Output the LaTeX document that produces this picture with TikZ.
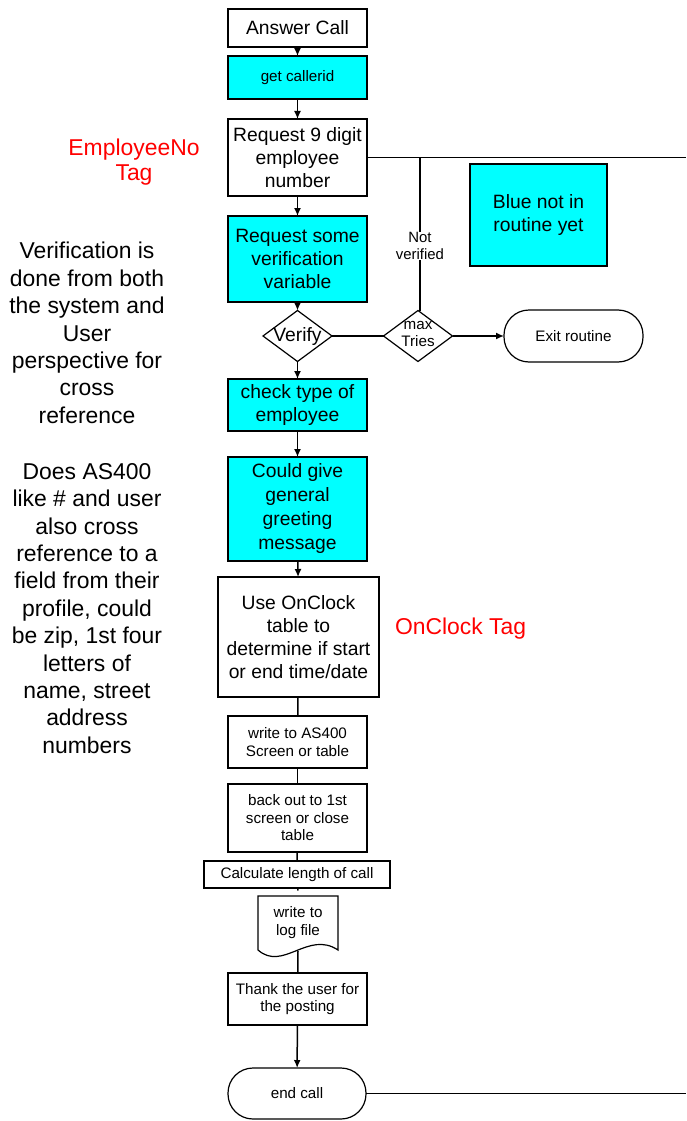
\documentclass[tikz,border=0pt]{standalone}
\usepackage{fontspec}
\setmainfont{Liberation Sans}
\usetikzlibrary{shapes.geometric,arrows.meta}
\definecolor{boxcyan}{HTML}{00FFFF}
\tikzset{
  every node/.style={inner sep=0pt, outer sep=0pt},
  big/.style={font=\fontsize{19.3}{23}\selectfont},
  small/.style={font=\fontsize{15.2}{17.5}\selectfont},
  box/.style={draw, line width=1.6pt, align=center, minimum width=139pt},
  cbox/.style={box, fill=boxcyan},
  terminal/.style={draw, line width=1.2pt, align=center, rounded corners=25pt},
  decision/.style={draw, line width=1.2pt, diamond, aspect=1.35, minimum width=69pt, minimum height=51pt, align=center},
  tag/.style={text=red, align=center, font=\fontsize{22.9}{25}\selectfont},
  note/.style={align=center, font=\fontsize{22.9}{27.4}\selectfont},
  flow/.style={line width=1.5pt, -{Latex[length=8pt,width=7pt]}},
  link/.style={line width=1.5pt}
}
\begin{document}
\begin{tikzpicture}[x=1pt,y=-1pt]
\useasboundingbox (0,0) rectangle (686,1121);

% main column
\node[box, big, minimum height=38pt] (answer) at (297.5,28) {Answer Call};
\node[cbox, small, minimum height=43pt] (callerid) at (297.5,77.5) {get callerid};
\node[box, big, minimum height=77pt] (req9) at (297.5,157.5) {Request 9 digit\\employee\\number};
\node[cbox, big, minimum height=86pt] (reqsome) at (297.5,259) {Request some\\verification\\variable};
\node[decision] (verify) at (297.5,336) {};
\node[big] at (297.5,337) {Verify};
\node[decision] (maxtries) at (418,336) {};
\node[small, align=center] at (418,334) {max\\Tries};
\node[terminal, small, minimum width=139pt, minimum height=52pt] (exit) at (573.5,336) {Exit routine};
\node[cbox, big, minimum height=52pt] (check) at (297.5,405) {check type of\\employee};
\node[cbox, big, minimum height=104pt, font=\fontsize{19.3}{24}\selectfont] (greet) at (297.5,509) {Could give\\general\\greeting\\message};
\node[box, big, minimum width=161pt, minimum height=120pt] (onclock) at (298.5,637) {Use OnClock\\table to\\determine if start\\or end time/date};
\node[box, small, minimum height=52pt] (as400) at (297.5,742) {write to AS400\\Screen or table};
\node[box, small, minimum height=68pt] (backout) at (297.5,818) {back out to 1st\\screen or close\\table};
\node[box, small, minimum width=186pt, minimum height=27pt] (calc) at (297,874.5) {Calculate length of call};

% document shape for the log file
\node[small, align=center, minimum width=80pt, minimum height=61pt, text depth=0pt] (log) at (298,921) {write to\\log file};
\draw[line width=1.2pt] (258,950) -- (258,896) -- (338,896) -- (338,950)
  .. controls (308,930) and (283,972) .. (258,950);
\coordinate (logbot) at (298,951);

\node[box, small, minimum height=52pt] (thank) at (297.5,999) {Thank the user for\\the posting};
\node[terminal, small, minimum width=138pt, minimum height=51pt] (endcall) at (297,1093.5) {end call};

% side box
\node[cbox, big, minimum width=137pt, minimum height=102pt] (blue) at (538.5,215) {Blue not in\\routine yet};

% tags and notes
\node[tag] (emptag) at (134,162) {EmployeeNo\\Tag};
\node[tag, anchor=west] (clocktag) at (395,629) {OnClock Tag};
\node[note] (note1) at (87,333) {Verification is\\done from both\\the system and\\User\\perspective for\\cross\\reference};
\node[note] (note2) at (87,608.5) {Does AS400\\like \# and user\\also cross\\reference to a\\field from their\\profile, could\\be zip, 1st four\\letters of\\name, street\\address\\numbers};

% connectors
\draw[flow] (answer) -- (callerid);
\draw[flow] (callerid) -- (req9);
\draw[flow] (req9) -- (reqsome);
\draw[flow] (reqsome) -- (verify);
\draw[flow] (verify) -- (check);
\draw[flow] (check) -- (greet);
\draw[flow] (greet) -- (onclock);
\draw[link] (onclock) -- (as400);
\draw[link] (as400) -- (backout);
\draw[link] (backout) -- (calc);
\draw[link] (calc) -- (log.north);
\draw[link] (logbot) -- (thank);
\draw[flow] (thank) -- (endcall);
\draw[link] (verify) -- (maxtries);
\draw[flow] (maxtries) -- (exit);

% retry loop back to the employee number request
\coordinate (rightedge) at (686,157.5);
\coordinate (loopjoin) at (420,157.5);
\draw[link] (req9.east) -- (rightedge);
\node[small, align=center, font=\fontsize{14.9}{17.5}\selectfont] (notver) at (420,246) {Not\\verified};
\draw[link] (maxtries.north -| loopjoin) -- (notver.south -| loopjoin);
\draw[link] (notver.north -| loopjoin) -- (loopjoin);

% end call line out to the right
\coordinate (endright) at (686,1093.5);
\draw[link] (endcall.east) -- (endright);
\end{tikzpicture}
\end{document}
